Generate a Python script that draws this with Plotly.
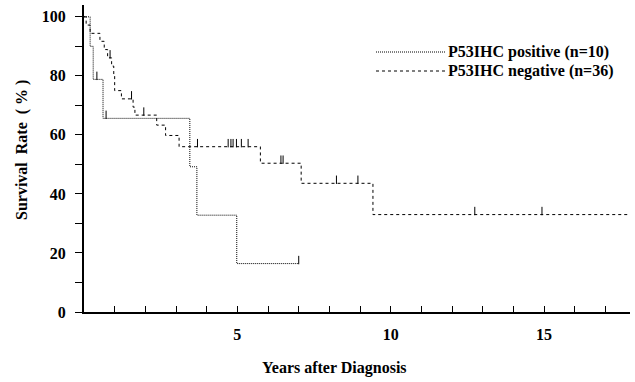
import plotly.graph_objects as go

# Kaplan-Meier step data
pos_times = [0, 0.2, 0.3, 0.62, 3.45, 3.68, 4.98, 7.0]
pos_surv = [100, 90, 78.8, 65.6, 49.2, 32.8, 16.4, 16.4]
pos_cens_t = [0.42, 0.72, 7.0]
pos_cens_s = [78.8, 65.6, 16.4]

neg_times = [0, 0.07, 0.2, 0.52, 0.66, 0.77, 0.9, 0.97, 1.0, 1.22, 1.6, 1.66,
             2.37, 2.66, 3.1, 5.75, 7.08, 9.42, 17.8]
neg_surv = [100, 97.2, 94.4, 91.7, 88.9, 86.1, 83.3, 80.6, 75.0, 72.2, 69.4, 66.7,
            63.3, 59.8, 56.0, 50.4, 43.6, 33.0, 33.0]
neg_cens_t = [0.85, 1.55, 1.95, 3.7, 4.7, 4.79, 4.86, 4.97, 5.13, 5.35,
              6.42, 6.49, 8.23, 8.93, 12.74, 14.93]
neg_cens_s = [86.1, 72.2, 66.7, 56.0, 56.0, 56.0, 56.0, 56.0, 56.0, 56.0,
              50.4, 50.4, 43.6, 43.6, 33.0, 33.0]

legend_labels = ["P53IHC positive (n=10)", "P53IHC negative (n=36)"]
x_tick_vals = list(range(0, 18))
x_tick_text = ["5" if v == 5 else "10" if v == 10 else "15" if v == 15 else "" for v in x_tick_vals]
y_tick_vals = list(range(0, 101, 10))
y_tick_text = [str(v) if v % 20 == 0 else "" for v in y_tick_vals]

FONT = "Liberation Serif"
NB = "\u00a0"
fig = go.Figure()

fig.add_trace(go.Scatter(x=pos_times, y=pos_surv, mode="lines", line_shape="hv",
                         line=dict(color="black", width=1, dash="1px,1px"),
                         showlegend=False))
fig.add_trace(go.Scatter(x=neg_times, y=neg_surv, mode="lines", line_shape="hv",
                         line=dict(color="black", width=1, dash="3px,3px"),
                         showlegend=False))
# censor ticks (short upward strokes)
fig.add_trace(go.Scatter(x=pos_cens_t, y=[s + 1.2 for s in pos_cens_s], mode="markers",
                         marker=dict(symbol="line-ns", size=6, line=dict(color="black", width=1)),
                         showlegend=False))
fig.add_trace(go.Scatter(x=neg_cens_t, y=[s + 1.2 for s in neg_cens_s], mode="markers",
                         marker=dict(symbol="line-ns", size=6, line=dict(color="black", width=1)),
                         showlegend=False))

# legend drawn as line samples + text
leg_y = [52, 71]
leg_dash = ["1px,1px", "3px,3px"]
for i in range(2):
    yy = (382 - 70 - leg_y[i]) / 307
    fig.add_shape(type="line", xref="paper", yref="paper",
                  x0=(376 - 84) / 546, x1=(446 - 84) / 546, y0=yy, y1=yy,
                  line=dict(color="black", width=1, dash=leg_dash[i]))
    fig.add_annotation(xref="paper", yref="paper", x=(446 - 84) / 546,
                       y=yy, text=legend_labels[i],
                       showarrow=False, xanchor="left", yanchor="middle",
                       font=dict(family=FONT, size=16, color="black", weight="bold"))

fig.add_annotation(xref="paper", yref="paper", x=(334 - 84) / 546, y=(312 - 368) / 307,
                   text="Years after Diagnosis", showarrow=False, xanchor="center",
                   yanchor="middle", font=dict(family=FONT, size=16, color="black", weight="bold"))
fig.add_annotation(xref="paper", yref="paper", x=(22 - 84) / 546, y=(312 - 150) / 307,
                   text="Survival" + NB * 2 + "Rate" + NB * 2 + "(" + NB + "%" + NB + ")",
                   showarrow=False, textangle=-90,
                   xanchor="center", yanchor="middle",
                   font=dict(family=FONT, size=16, color="black", weight="bold"))

fig.update_layout(
    width=635, height=382,
    margin=dict(l=84, r=5, t=5, b=70),
    paper_bgcolor="white", plot_bgcolor="white",
    xaxis=dict(range=[0, 17.8], tickvals=x_tick_vals, ticktext=x_tick_text,
               ticks="inside", ticklen=6, tickwidth=1.2, tickcolor="black",
               showline=True, linewidth=2, linecolor="black", showgrid=False,
               zeroline=False, ticklabelstandoff=7,
               tickfont=dict(family=FONT, size=16, color="black", weight="bold")),
    yaxis=dict(range=[0, 104], tickvals=y_tick_vals, ticktext=y_tick_text,
               ticks="outside", ticklen=7, tickwidth=1.2, tickcolor="black",
               showline=True, linewidth=2, linecolor="black", showgrid=False,
               zeroline=False, ticklabelstandoff=6,
               tickfont=dict(family=FONT, size=16, color="black", weight="bold")),
)

fig.write_html("out.html")
